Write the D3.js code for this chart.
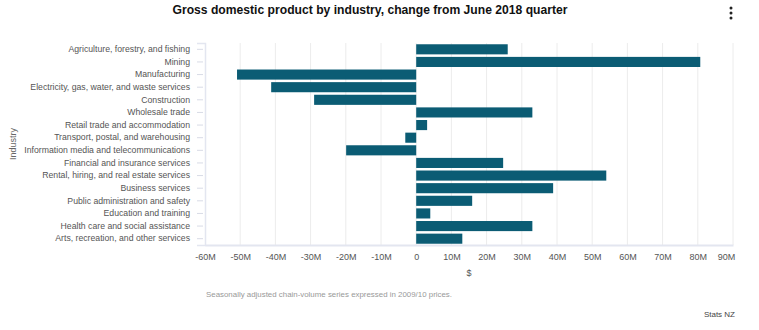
<!DOCTYPE html>
<html><head><meta charset="utf-8">
<script src="https://cdn.jsdelivr.net/npm/d3@7"></script>
<style>
body{margin:0;background:#fff;}
svg{display:block;font-family:"Liberation Sans",Arial,sans-serif;}
</style></head>
<body><svg id="c" width="759" height="330"></svg>
<script>
const industries = [
  "Agriculture, forestry, and fishing","Mining","Manufacturing",
  "Electricity, gas, water, and waste services","Construction","Wholesale trade",
  "Retail trade and accommodation","Transport, postal, and warehousing",
  "Information media and telecommunications","Financial and insurance services",
  "Rental, hiring, and real estate services","Business services",
  "Public administration and safety","Education and training",
  "Health care and social assistance","Arts, recreation, and other services"
];
const changeM = [26, 80.7, -50.9, -41.2, -29, 33, 3.1, -3.1, -19.9, 24.7, 54, 38.9, 15.9, 4, 33, 13.1];
const xTicks = [-60,-50,-40,-30,-20,-10,0,10,20,30,40,50,60,70,80,90];
const xTickLabels = ["-60M","-50M","-40M","-30M","-20M","-10M","0","10M","20M","30M","40M","50M","60M","70M","80M","90M"];

const svg = d3.select("#c");
const m = {left:205, right:733, top:43, bottom:245};
const x = d3.scaleLinear().domain([-60,90]).range([m.left,m.right]);
const y = d3.scaleBand().domain(industries).range([m.top,m.bottom]).paddingInner(0.2).paddingOuter(0.1);

// title
svg.append("text").attr("x",370).attr("y",14).attr("text-anchor","middle")
  .attr("font-size",13).attr("font-weight","bold").attr("fill","#111")
  .attr("textLength",395).attr("lengthAdjust","spacingAndGlyphs")
  .text("Gross domestic product by industry, change from June 2018 quarter");

// menu dots
svg.append("g").selectAll("circle").data([8,13,18]).join("circle")
  .attr("cx",731).attr("cy",d=>d).attr("r",1.5).attr("fill","#222");

// gridlines
svg.append("g").selectAll("line").data(xTicks.slice(1)).join("line")
  .attr("x1",d=>x(d)).attr("x2",d=>x(d)).attr("y1",m.top).attr("y2",m.bottom)
  .attr("stroke","#ececec").attr("stroke-width",1);

// bars
svg.append("g").selectAll("rect").data(industries).join("rect")
  .attr("x",(d,i)=>x(Math.min(0,changeM[i])))
  .attr("width",(d,i)=>Math.abs(x(changeM[i])-x(0)))
  .attr("y",d=>y(d)).attr("height",y.bandwidth())
  .attr("fill","#0b5c74");

// y axis
const ya = svg.append("g").attr("transform",`translate(${m.left},0)`)
  .call(d3.axisLeft(y).tickSize(8).tickPadding(7));
ya.select(".domain").attr("stroke","#e3e6f0").attr("stroke-width",1.5);
ya.selectAll(".tick line").attr("stroke","#d8dbe6").attr("x1",-8).attr("x2",-2);
ya.selectAll(".tick text").attr("font-size",8.7).attr("fill","#555")
  .attr("font-family","'Liberation Sans',Arial,sans-serif");

// x axis
const xa = svg.append("g").attr("transform",`translate(0,${m.bottom})`)
  .call(d3.axisBottom(x).tickValues(xTicks).tickFormat((d,i)=>xTickLabels[i]).tickSize(0).tickPadding(9));
xa.select(".domain").attr("stroke","#e3e6f0").attr("stroke-width",2);
xa.selectAll(".tick text").attr("font-size",9).attr("fill","#555")
  .attr("font-family","'Liberation Sans',Arial,sans-serif");
xa.selectAll(".tick").filter(d=>d===90).select("text").attr("dx",-7);

// axis titles
svg.append("text").attr("x",469).attr("y",276).attr("text-anchor","middle")
  .attr("font-size",9).attr("fill","#555").text("$");
svg.append("text").attr("transform","translate(16,144) rotate(-90)").attr("text-anchor","middle")
  .attr("font-size",9).attr("fill","#666").text("Industry");

// footnote & credit
svg.append("text").attr("x",206).attr("y",297).attr("font-size",7.5).attr("fill","#999")
  .attr("textLength",246).attr("lengthAdjust","spacingAndGlyphs")
  .text("Seasonally adjusted chain-volume series expressed in 2009/10 prices.");
svg.append("text").attr("x",735).attr("y",317).attr("text-anchor","end")
  .attr("font-size",8).attr("fill","#444").text("Stats NZ");
</script></body></html>
